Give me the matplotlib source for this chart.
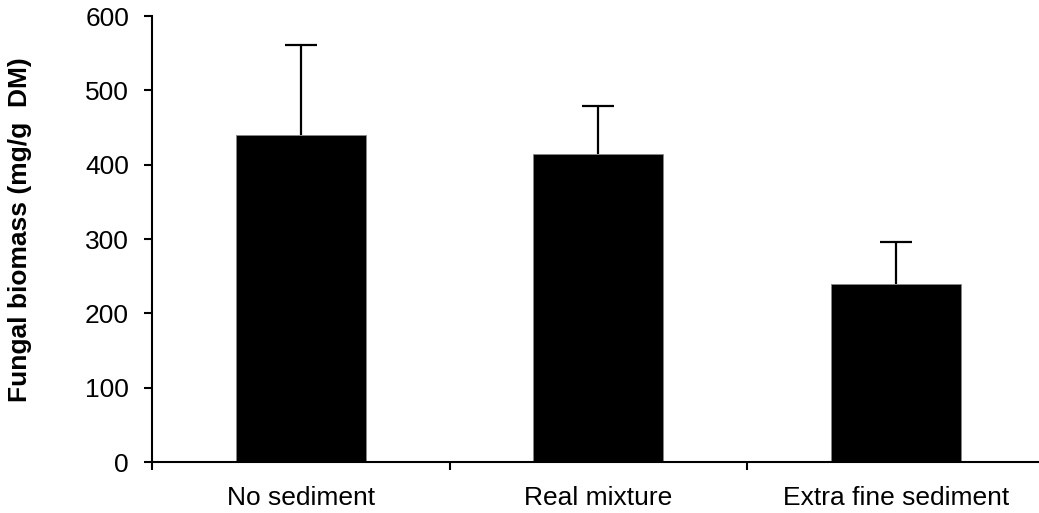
import matplotlib
matplotlib.use("Agg")
import matplotlib.pyplot as plt
import numpy as np

# fungal biomass per treatment, mean and upper error
treatments = ["No sediment", "Real mixture", "Extra fine sediment"]
biomass = [440, 415, 240]
biomass_err = [121, 64, 56]

plt.rcParams['font.family'] = ['Liberation Sans', 'DejaVu Sans']

fig = plt.figure(figsize=(10.39, 5.13), dpi=100)
ax = fig.add_axes([0.1463, 0.0994, 0.859, 0.8694])

x = np.arange(len(treatments))
ax.bar(x, biomass, width=0.437, color='black', edgecolor='#888888', linewidth=0.6, zorder=2)
eb = ax.errorbar(x, biomass, yerr=[np.zeros(len(biomass)), biomass_err], fmt='none',
                 ecolor='black', elinewidth=1.6, capsize=11.5, capthick=1.6, zorder=1)
# only the upper cap is wanted
eb[1][0].set_visible(False)

ax.set_xlim(-0.5, 2.5)
ax.set_ylim(0, 600)
ax.set_yticks(np.arange(0, 601, 100))

# category labels sit between boundary ticks
ax.set_xticks(x)
ax.set_xticklabels(treatments, fontsize=19)
ax.tick_params(axis='x', which='major', length=0, pad=17)
ax.set_xticks([-0.5, 0.5, 1.5, 2.5], minor=True)
ax.tick_params(axis='x', which='minor', length=6, width=1.5, direction='out')
ax.tick_params(axis='y', length=5.5, width=1.5, direction='out', pad=11, labelsize=19)

for side in ['top', 'right']:
    ax.spines[side].set_visible(False)
for side in ['left', 'bottom']:
    ax.spines[side].set_linewidth(1.5)

ax.set_ylabel("Fungal biomass (mg/g  DM)", fontsize=19, fontweight='bold')
ax.yaxis.set_label_coords(-0.1345, 0.52)

fig.savefig("out.png", dpi=100)
